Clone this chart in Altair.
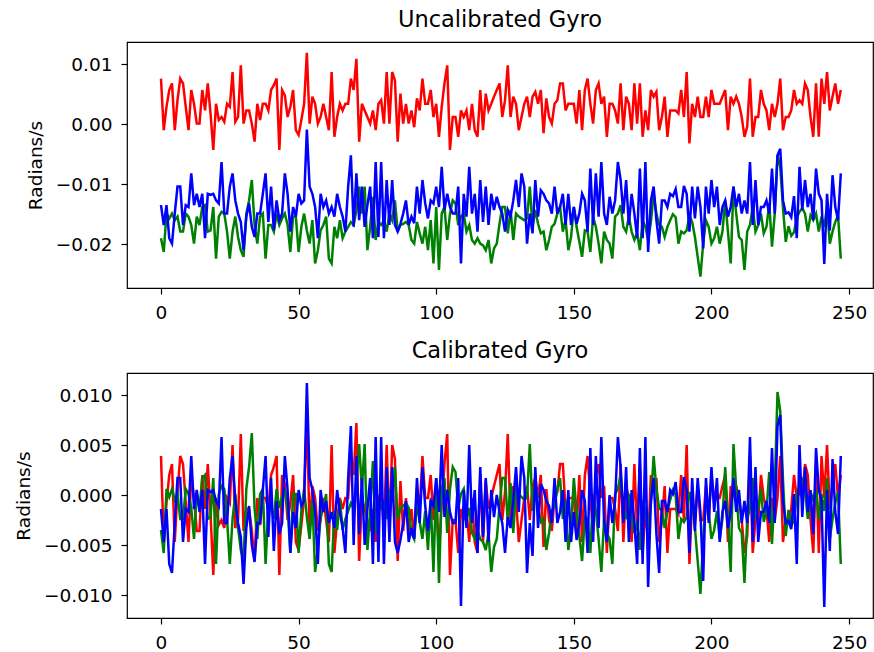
import altair as alt
import pandas as pd

# Gyro readings in milli-radians/s (index 0..247)
red_raw = [
    7.6, -1.0, 2.9, 5.7, 6.8, -1.0, 4.0, 7.6, 6.8, 2.9,
    -1.0, 5.7, 3.4, 0.1, 0.1, 5.7, 2.3, 6.8, 1.8, -4.3,
    3.4, 0.7, 1.2, 0.4, 3.4, 2.9, 8.7, 0.4, 1.2, 9.8,
    0.1, 2.3, 2.3, 0.1, -2.9, 3.4, 0.7, 3.4, 3.4, 2.3,
    5.7, 6.5, 7.6, -4.3, 5.7, 4.8, 1.2, 2.9, 5.7, -1.0,
    -1.8, 0.7, 3.4, 11.9, 0.1, 4.6, 3.4, 0.1, 1.2, 3.4,
    1.2, -1.0, 8.7, -2.1, 1.2, 3.4, 2.3, 3.4, 3.4, 7.6,
    5.7, 10.9, -2.9, 3.4, 2.3, 1.2, 0.1, 2.3, -1.0, 3.4,
    4.0, 0.1, 8.7, 0.1, 8.7, 7.3, -2.9, 5.1, 0.1, 3.4,
    0.1, 2.3, -0.5, 4.3, 2.3, 7.6, 3.4, 3.4, 5.7, 1.2,
    3.4, -2.1, 2.9, 6.8, 9.8, -4.3, 1.2, 1.2, -2.1, 2.3,
    1.2, 2.3, -1.0, 3.4, -1.0, -2.1, 5.7, -1.0, 5.1, 2.3,
    3.4, 4.6, 5.7, 6.8, 1.2, 4.0, 9.8, 1.2, 4.6, 3.4,
    -1.0, 1.2, 3.4, 4.6, 1.2, 4.6, 5.4, 3.4, 5.7, -1.5,
    4.3, 1.2, 0.1, 3.4, 4.0, 6.8, 6.8, 2.3, 3.4, 3.4,
    3.4, 0.1, 5.7, -1.0, 5.7, 7.6, 3.4, 0.1, 5.7, 6.8,
    3.4, 4.6, -2.1, 3.4, 3.4, 2.3, 0.1, 6.8, -1.0, 4.6,
    3.4, -1.0, 6.8, 0.1, 6.8, -2.1, 2.3, -1.0, 5.7, 4.6,
    5.4, -1.0, 1.2, 4.6, -2.1, 2.3, 2.3, 2.3, 1.8, 5.7,
    1.2, 8.7, -3.2, 3.4, 1.2, 4.6, 1.2, 1.2, 4.6, 1.2,
    5.7, 3.4, 3.4, 3.4, 4.6, 5.7, -1.0, 4.6, 3.4, 4.6,
    3.4, 1.2, -2.1, -0.4, 7.6, -2.1, 1.2, 1.2, 5.7, 3.4,
    2.3, -1.0, 3.4, 1.2, 3.4, 7.6, -1.0, 1.2, 1.2, 2.3,
    5.7, 3.4, 4.0, 3.4, 6.8, 5.7, 1.2, -2.1, 6.8, -2.1,
    7.6, 3.4, 8.7, 2.3, 4.6, 6.8, 3.4, 5.7,
]

green_raw = [
    -19.0, -21.3, -14.9, -15.7, -14.9, -16.0, -15.4, -17.9, -17.9, -14.9,
    -15.4, -16.8, -19.9, -15.4, -16.8, -13.8, -13.5, -17.9, -17.7, -13.8,
    -22.4, -15.4, -14.6, -14.9, -17.9, -22.4, -17.9, -15.4, -18.8, -21.0,
    -22.1, -14.9, -12.7, -9.3, -16.8, -19.9, -15.4, -14.9, -22.4, -16.8,
    -16.8, -17.9, -14.9, -16.8, -15.7, -14.9, -16.8, -21.3, -15.4, -15.4,
    -21.3, -17.1, -14.9, -17.7, -19.9, -16.0, -23.2, -21.0, -17.7, -16.8,
    -15.4, -22.4, -23.2, -17.1, -19.0, -16.0, -19.0, -17.9, -17.1, -16.3,
    -16.8, -14.3, -10.4, -14.9, -10.4, -21.0, -17.1, -12.1, -19.3, -16.3,
    -16.8, -16.0, -17.9, -14.9, -16.0, -12.7, -17.9, -16.8, -16.6, -16.3,
    -16.8, -19.3, -19.9, -16.3, -18.2, -19.9, -17.1, -21.0, -16.0, -23.2,
    -13.8, -24.3, -14.9, -13.8, -19.3, -14.9, -12.7, -13.2, -16.8, -15.4,
    -14.9, -17.9, -16.8, -19.3, -19.9, -19.0, -19.9, -20.2, -21.0, -19.3,
    -23.2, -20.7, -19.9, -16.6, -13.8, -13.8, -18.2, -14.3, -19.3, -14.9,
    -15.4, -15.7, -16.0, -15.7, -10.4, -17.1, -14.3, -16.6, -18.2, -17.9,
    -21.0, -19.3, -17.1, -16.6, -14.9, -13.8, -17.9, -16.0, -21.0, -18.8,
    -13.8, -17.1, -19.6, -22.1, -17.7, -17.9, -21.3, -15.4, -17.1, -19.9,
    -23.2, -17.9, -19.3, -19.9, -22.4, -15.4, -14.9, -13.5, -17.1, -17.9,
    -15.4, -17.9, -19.3, -18.2, -21.0, -16.0, -17.1, -19.3, -16.3, -11.6,
    -14.9, -16.8, -17.1, -18.8, -17.1, -16.0, -15.0, -15.5, -19.9, -17.9,
    -18.2, -17.7, -15.2, -16.3, -18.8, -22.1, -25.4, -19.9, -16.0, -17.1,
    -19.9, -19.0, -17.1, -19.9, -17.9, -12.7, -17.9, -23.2, -10.4, -14.9,
    -18.8, -19.3, -24.3, -17.9, -16.8, -13.8, -17.9, -16.8, -14.9, -18.2,
    -17.1, -13.2, -20.4, -14.9, -5.2, -7.1, -14.0, -19.6, -17.0, -18.6,
    -18.0, -15.6, -14.6, -14.0, -14.9, -17.9, -15.2, -16.0, -14.9, -17.9,
    -15.4, -17.1, -13.8, -19.9, -17.9, -16.3, -15.2, -22.4,
]

blue_raw = [
    -13.5, -16.8, -13.5, -19.0, -19.9, -14.9, -10.4, -10.4, -16.8, -13.5,
    -13.8, -8.2, -13.5, -11.6, -13.8, -11.6, -19.0, -11.6, -11.8, -11.6,
    -12.7, -13.2, -6.3, -14.9, -14.9, -10.4, -8.2, -12.7, -14.9, -16.3,
    -21.0, -15.4, -13.2, -17.1, -18.8, -14.9, -14.9, -11.6, -8.2, -16.3,
    -10.4, -17.7, -12.7, -16.0, -14.9, -8.2, -11.6, -17.9, -13.8, -15.4,
    -11.6, -13.2, -12.7, -0.9, -10.4, -11.6, -13.8, -19.0, -11.6, -13.8,
    -12.7, -14.9, -13.8, -15.4, -11.6, -13.8, -15.4, -17.9, -10.4, -5.2,
    -17.1, -8.2, -16.0, -10.4, -17.1, -13.5, -10.4, -19.0, -6.3, -18.8,
    -6.3, -19.0, -9.3, -16.8, -9.3, -16.8, -17.9, -16.6, -14.9, -12.7,
    -16.8, -15.4, -16.5, -10.4, -14.9, -9.3, -13.2, -15.7, -12.7, -13.2,
    -10.4, -13.8, -7.1, -14.3, -11.6, -13.8, -14.9, -14.9, -10.4, -23.2,
    -11.6, -15.4, -7.1, -14.9, -11.6, -17.9, -9.3, -16.3, -10.4, -16.8,
    -11.6, -14.3, -12.1, -13.8, -14.9, -17.9, -14.3, -15.4, -12.7, -9.3,
    -13.8, -8.2, -10.4, -19.9, -14.9, -18.2, -9.3, -15.4, -11.0, -11.6,
    -12.7, -13.2, -14.9, -10.4, -14.9, -13.8, -11.6, -16.8, -11.6, -16.8,
    -13.8, -16.6, -14.9, -11.6, -12.7, -17.9, -7.4, -16.8, -8.2, -15.4,
    -6.3, -14.9, -16.8, -12.1, -14.9, -12.7, -6.3, -9.3, -14.9, -9.3,
    -16.8, -11.6, -14.9, -19.0, -7.4, -19.0, -6.3, -21.3, -12.7, -10.4,
    -16.0, -19.9, -12.7, -12.7, -13.8, -11.6, -12.0, -10.8, -13.8, -13.8,
    -10.3, -11.6, -17.9, -10.4, -15.7, -10.4, -13.8, -20.7, -10.4, -14.9,
    -9.3, -13.8, -10.4, -16.8, -13.8, -12.7, -15.4, -13.8, -10.4, -13.8,
    -11.6, -14.9, -12.7, -14.9, -6.3, -16.8, -9.3, -16.8, -13.8, -13.8,
    -12.7, -14.9, -7.4, -14.9, -5.2, -4.1, -12.7, -14.9, -14.7, -15.5,
    -12.0, -19.0, -7.1, -14.3, -9.3, -13.8, -11.6, -16.0, -7.4, -11.6,
    -12.7, -23.3, -11.6, -17.7, -8.5, -13.8, -16.0, -8.2,
]

# Calibration offsets (bias) per axis, milli-radians/s
bias = {"x": 3.7, "y": -15.5, "z": -12.1}

series_names = ["x", "y", "z"]
series_colors = ["#ff0000", "#008000", "#0000ff"]
x_ticks = [0, 50, 100, 150, 200, 250]
top_y_ticks = [-0.02, -0.01, 0.0, 0.01]
bot_y_ticks = [-0.010, -0.005, 0.0, 0.005, 0.010]

rows_raw, rows_cal = [], []
for name, vals in zip(series_names, [red_raw, green_raw, blue_raw]):
    for i, v in enumerate(vals):
        rows_raw.append({"t": i, "v": v / 1000.0, "s": name})
        rows_cal.append({"t": i, "v": (v - bias[name]) / 1000.0, "s": name})
df_raw = pd.DataFrame(rows_raw)
df_cal = pd.DataFrame(rows_cal)

W = 746
x_dom = [-12.35, 258.7]

color = alt.Color("s:N", scale=alt.Scale(domain=series_names, range=series_colors), legend=None)


def panel(df, title, ydom, yticks, yfmt, h):
    return alt.Chart(df, title=alt.TitleParams(title)).mark_line(strokeWidth=2.5, clip=True).encode(
        x=alt.X("t:Q", scale=alt.Scale(domain=x_dom, nice=False, zero=False),
                axis=alt.Axis(values=x_ticks, format="d", title=None)),
        y=alt.Y("v:Q", scale=alt.Scale(domain=ydom, nice=False, zero=False),
                axis=alt.Axis(values=yticks, format=yfmt, title="Radians/s")),
        color=color,
        detail="s:N",
    ).properties(width=W, height=h)


top = panel(df_raw, "Uncalibrated Gyro", [-0.0273, 0.0137], top_y_ticks, ".2f", 246)
bot = panel(df_cal, "Calibrated Gyro", [-0.0123, 0.0122], bot_y_ticks, ".3f", 245)

chart = alt.vconcat(top, bot, spacing=15).properties(
    padding={"left": 13, "top": 7, "right": 0, "bottom": 0}
).configure_view(stroke="black", strokeWidth=1.2).configure_axis(
    labelFont="DejaVu Sans", labelFontSize=18.5, labelColor="black",
    tickColor="black", tickSize=6, tickWidth=1.2, grid=False, domain=False,
    labelPadding=9, titleFont="DejaVu Sans", titleFontSize=18.5,
    titleFontWeight="normal", titleColor="black", titlePadding=10,
).configure_title(
    font="DejaVu Sans", fontSize=22.5, fontWeight="normal", color="black",
    anchor="middle", offset=11,
)

chart.save("out.html", embed_options={"renderer": "svg", "actions": False})
